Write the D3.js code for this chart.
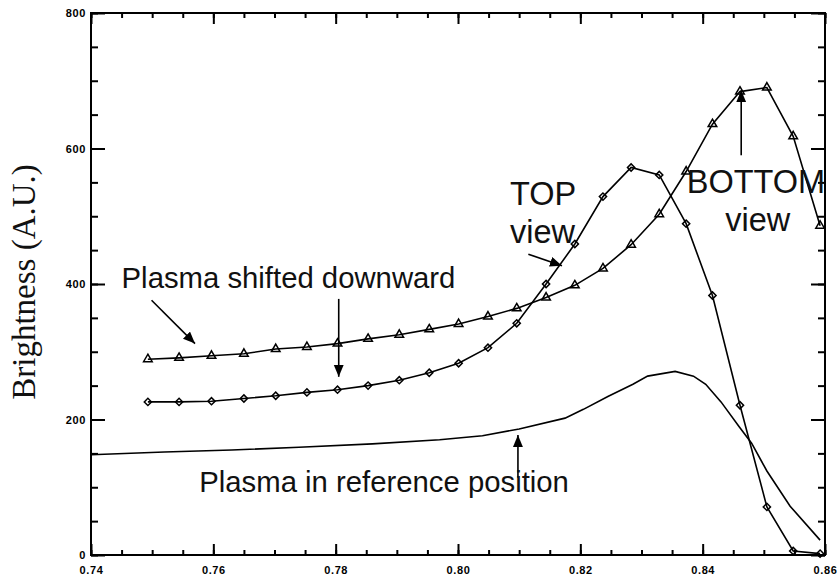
<!DOCTYPE html>
<html>
<head>
<meta charset="utf-8">
<script src="https://cdn.jsdelivr.net/npm/d3@7"></script>
<style>
  body { margin: 0; background: #fff; }
  .tick text { font-family: 'Liberation Sans', Arial, sans-serif; font-weight: bold; font-size: 11px; letter-spacing: 0.6px; fill: #000; }
  .note { font-family: 'Liberation Sans', Arial, sans-serif; fill: #111; }
</style>
</head>
<body>
<svg width="837" height="578"></svg>
<script>
// sample positions (non uniform spacing)
var xs = [0.7493, 0.7544, 0.7597, 0.7650, 0.7702, 0.7753, 0.7803, 0.7853,
  0.7904, 0.7953, 0.8001, 0.8049, 0.8096, 0.8144, 0.8191, 0.8237, 0.8283,
  0.8329, 0.8373, 0.8416, 0.8461, 0.8505, 0.8548, 0.8592];
// triangles: BOTTOM view, plasma shifted downward
var bottomView = [289, 291, 294, 297, 304, 307, 312, 319, 325, 333, 341, 352,
  364, 380, 398, 423, 458, 503, 566, 636, 684, 690, 618, 486];
// diamonds: TOP view, plasma shifted downward
var topView = [226, 226, 227, 231, 235, 240, 244, 250, 258, 269, 283, 306,
  342, 400, 459, 529, 572, 561, 489, 383, 221, 71, 6, 2];
// plasma in reference position (plain line)
var refX = [0.740, 0.752, 0.763, 0.774, 0.786, 0.797, 0.804, 0.810, 0.8175,
  0.8205, 0.8245, 0.8286, 0.831, 0.8355, 0.8385, 0.8405, 0.843, 0.846, 0.848,
  0.8505, 0.8543, 0.8592];
var refY = [148, 152, 155, 159, 164, 170, 176, 186, 202, 215, 234, 252, 264,
  271, 264, 252, 226, 189, 165, 124, 72, 22];

var xTicks = [0.74, 0.76, 0.78, 0.80, 0.82, 0.84, 0.86];
var yTicks = [0, 200, 400, 600, 800];

// annotations, in data units
var notes = [
  {text: 'Plasma shifted downward', x: 0.7450, y: 394, size: 29.3},
  {text: 'TOP', x: 0.8085, y: 517, size: 32.5},
  {text: 'view', x: 0.8085, y: 461, size: 32.5},
  {text: 'BOTTOM', x: 0.8374, y: 534, size: 32.5},
  {text: 'view', x: 0.8437, y: 478, size: 32.5},
  {text: 'Plasma in reference position', x: 0.7577, y: 93, size: 29.3}
];
var arrows = [
  [0.7499, 376, 0.7570, 312],
  [0.7805, 378, 0.7805, 263],
  [0.8115, 444, 0.8170, 427],
  [0.8463, 590, 0.8463, 686],
  [0.8098, 114, 0.8098, 177]
];

var svg = d3.select('svg');
var mLeft = 91, mRight = 825, mTop = 13, mBottom = 555;

var x = d3
  .scaleLinear()
  .domain([0.74, 0.86])
  .range([mLeft, mRight]);
var y = d3
  .scaleLinear()
  .domain([0, 800])
  .range([mBottom, mTop]);

// axes, ticks pointing inward
function axis(gen, tr, size, values, labels, pad) {
  var a = svg
    .append('g')
    .attr('transform', tr)
    .call(gen.tickValues(values).tickSize(-size).tickPadding(pad || 3)
      .tickFormat(labels ? labels : ''));
  a.select('.domain').remove();
  a.selectAll('line').attr('stroke', '#000').attr('stroke-width', 2);
  return a;
}
var xMinor = d3.range(0, 25).map(function(i) { return 0.74 + i * 0.005; });
var yMinor = d3.range(0, 17).map(function(i) { return i * 50; });

axis(d3.axisBottom(x), 'translate(0,' + mBottom + ')', 5, xMinor);
axis(d3.axisBottom(x), 'translate(0,' + mBottom + ')', 11, xTicks, d3.format('.2f'), 11);
axis(d3.axisTop(x), 'translate(0,' + mTop + ')', 5, xMinor);
axis(d3.axisTop(x), 'translate(0,' + mTop + ')', 11, xTicks);
axis(d3.axisLeft(y), 'translate(' + mLeft + ',0)', 7, yMinor);
axis(d3.axisLeft(y), 'translate(' + mLeft + ',0)', 14, yTicks, d3.format('d'), 5);
axis(d3.axisRight(y), 'translate(' + mRight + ',0)', 7, yMinor);
axis(d3.axisRight(y), 'translate(' + mRight + ',0)', 14, yTicks);

svg
  .append('rect')
  .attr('x', mLeft)
  .attr('y', mTop)
  .attr('width', mRight - mLeft)
  .attr('height', mBottom - mTop)
  .attr('fill', 'none')
  .attr('stroke', '#000')
  .attr('stroke-width', 2);

svg
  .append('text')
  .attr('transform', 'translate(35,282) rotate(-90)')
  .attr('text-anchor', 'middle')
  .attr('font-family', "'Liberation Serif', 'Times New Roman', serif")
  .attr('font-size', 33)
  .attr('fill', '#111')
  .text('Brightness (A.U.)');

var line = d3
  .line()
  .x(function(d) { return x(d[0]); })
  .y(function(d) { return y(d[1]); });

function series(vals, xv) {
  return vals.map(function(v, i) { return [xv[i], v]; });
}

svg
  .append('path')
  .datum(series(refY, refX))
  .attr('d', line)
  .attr('fill', 'none')
  .attr('stroke', '#000')
  .attr('stroke-width', 1.6);

[bottomView, topView].forEach(function(vals, k) {
  var pts = series(vals, xs);
  svg
    .append('path')
    .datum(pts)
    .attr('d', line)
    .attr('fill', 'none')
    .attr('stroke', '#000')
    .attr('stroke-width', 1.6);
  var sym = k === 0
    ? d3.symbol(d3.symbolTriangle, 32)
    : d3.symbol(d3.symbolSquare, 26);
  svg
    .append('g')
    .selectAll('path')
    .data(pts)
    .enter()
    .append('path')
    .attr('d', sym)
    .attr('transform', function(d) {
      return 'translate(' + x(d[0]) + ',' + y(d[1]) + ')' + (k === 1 ? ' rotate(45)' : '');
    })
    .attr('fill', 'none')
    .attr('stroke', '#000')
    .attr('stroke-width', 1.5);
});

// arrows
svg
  .append('defs')
  .append('marker')
  .attr('id', 'head')
  .attr('markerUnits', 'userSpaceOnUse')
  .attr('markerWidth', 14)
  .attr('markerHeight', 12)
  .attr('refX', 12)
  .attr('refY', 5)
  .attr('orient', 'auto')
  .append('path')
  .attr('d', 'M0,0L12,5L0,10Z')
  .attr('fill', '#000');

svg
  .append('g')
  .selectAll('line')
  .data(arrows)
  .enter()
  .append('line')
  .attr('x1', function(d) { return x(d[0]); })
  .attr('y1', function(d) { return y(d[1]); })
  .attr('x2', function(d) { return x(d[2]); })
  .attr('y2', function(d) { return y(d[3]); })
  .attr('stroke', '#000')
  .attr('stroke-width', 1.6)
  .attr('marker-end', 'url(#head)');

svg
  .append('g')
  .selectAll('text')
  .data(notes)
  .enter()
  .append('text')
  .attr('class', 'note')
  .attr('x', function(d) { return x(d.x); })
  .attr('y', function(d) { return y(d.y); })
  .attr('font-size', function(d) { return d.size; })
  .text(function(d) { return d.text; });
</script>
</body>
</html>
